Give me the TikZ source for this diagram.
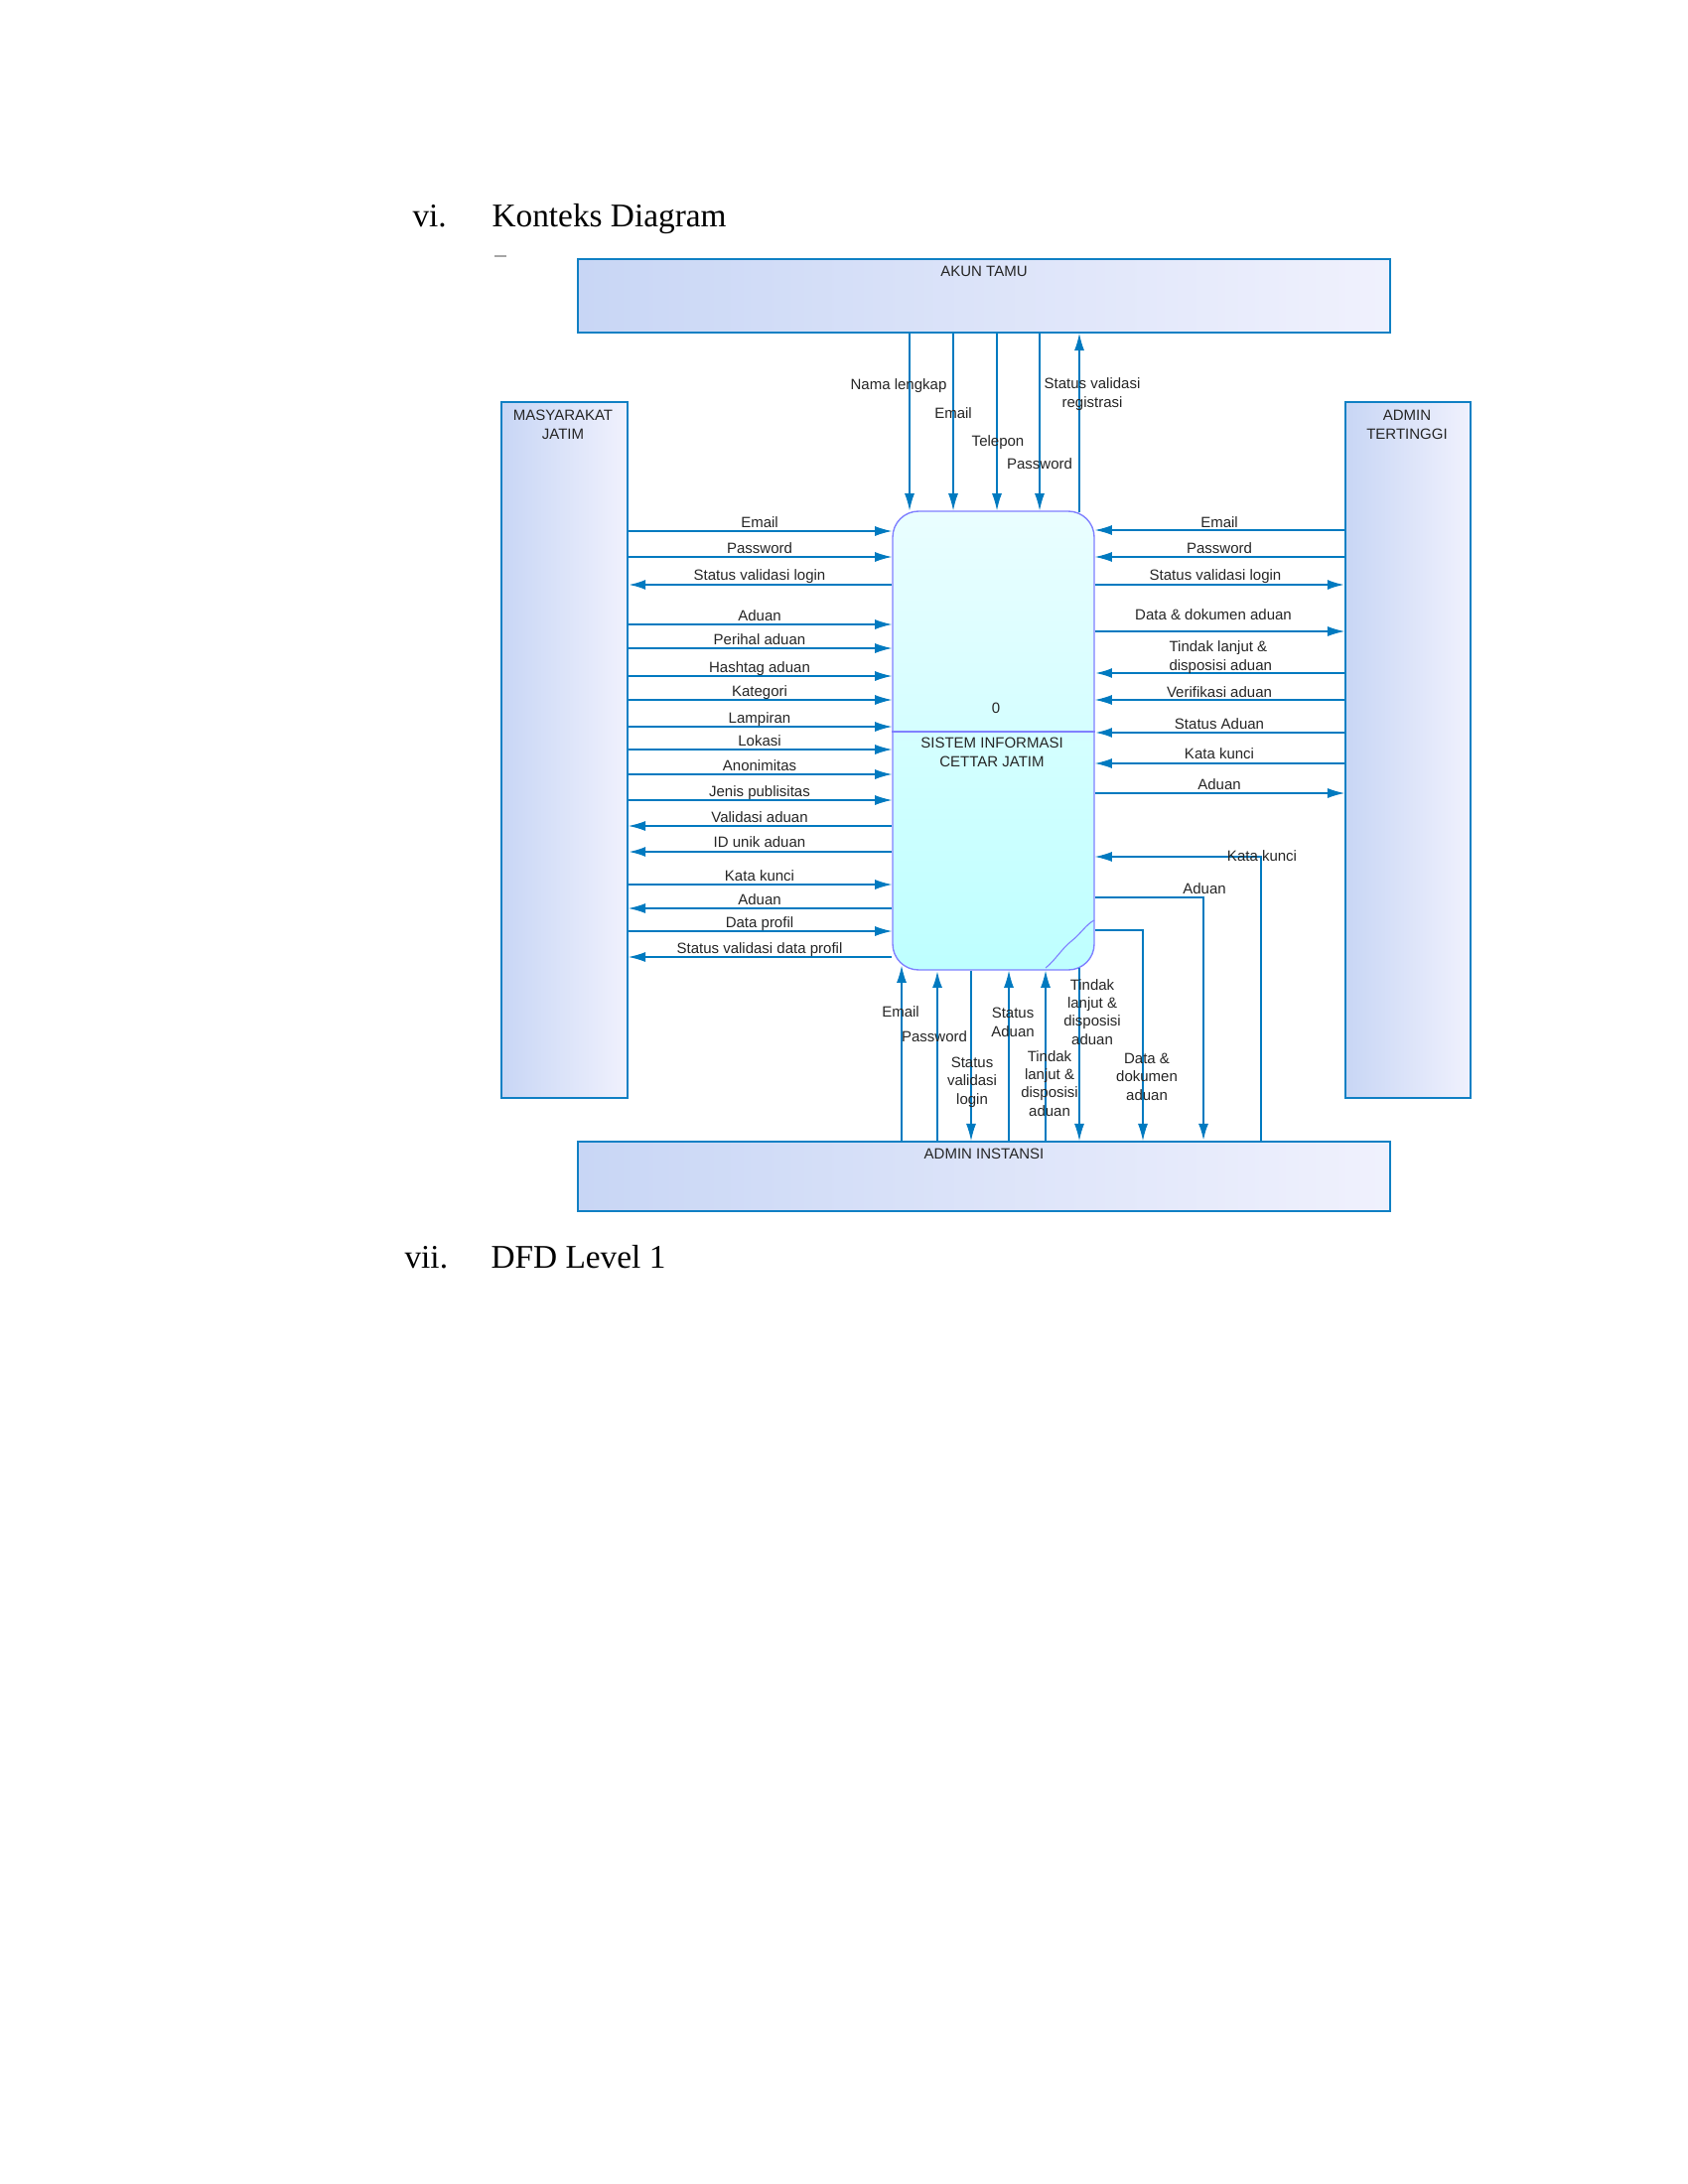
\documentclass[tikz,border=0pt]{standalone}
\usepackage{fontspec}
\setmainfont{Liberation Serif}
\newfontfamily\lblsans{Liberation Sans}
\usetikzlibrary{arrows.meta,fit,calc}
\definecolor{flowc}{RGB}{0,122,192}
\definecolor{entborder}{RGB}{16,128,196}
\definecolor{entA}{RGB}{200,214,245}
\definecolor{entB}{RGB}{240,241,253}
\definecolor{procA}{RGB}{234,254,255}
\definecolor{procB}{RGB}{190,255,255}
\definecolor{procborder}{RGB}{128,128,255}
\tikzset{
  entity/.style={rectangle, draw=entborder, line width=0.6pt, left color=entA, right color=entB, inner sep=0pt},
  procbox/.style={rectangle, draw=procborder, line width=0.5pt, top color=procA, bottom color=procB, rounded corners=9.4pt, inner sep=0pt},
  flow/.style={draw=flowc, line width=0.45pt, -{Latex[length=6.2pt,width=3.6pt]}},
  thickflow/.style={flow, line width=0.9pt},
  lbl/.style={font=\lblsans\fontsize{5.4}{6.5}\selectfont, inner sep=0pt, anchor=base, text=black!85, align=center},
  lblL/.style={lbl, anchor=base west, align=left},
  head/.style={font=\fontsize{12}{14}\selectfont, inner sep=0pt, anchor=base west},
}
\begin{document}
\begin{tikzpicture}[x=0.36pt,y=-0.36pt]
\fill[white] (0,0) rectangle (1700,2200);
\useasboundingbox (0,0) rectangle (1700,2200);

% headings
\node[head] (h1n) at (415,229) {vi.};
\node[head] (h1t) at (495,229) {Konteks Diagram};
\node[head] (h2n) at (407,1277) {vii.};
\node[head] (h2t) at (494,1277) {DFD Level 1};
\draw[black!35, line width=0.4pt] (498,258) -- (510,258);

% entities
\node[entity, fit={(582,261) (1400,335)}] (akun) {};
\node[entity, fit={(505,405) (632,1106)}] (masy) {};
\node[entity, fit={(1355,405) (1481,1106)}] (admt) {};
\node[entity, fit={(582,1150) (1400,1220)}] (admi) {};
% process
\node[procbox, fit={(899,515) (1102,977)}] (proc) {};
\draw[procborder, line width=0.45pt] (proc.west |- 0,737) -- (proc.east |- 0,737);
\draw[procborder, line width=0.4pt] (1102,927) .. controls (1094,931) and (1088,941) .. (1079,948) .. controls (1069,956) and (1063,967) .. (1053,975);

% entity / process labels (base = baseline of last line)
\node[lbl] (takun) at (991,279) {AKUN TAMU};
\node[lbl] (tmasy) at (567,442) {MASYARAKAT\\JATIM};
\node[lbl] (tadmt) at (1417,442) {ADMIN\\TERTINGGI};
\node[lbl] (tadmi) at (991,1167) {ADMIN INSTANSI};
\node[lbl] (tpnum) at (1003,718) {0};
\node[lbl] (tproc) at (999,772) {SISTEM INFORMASI\\CETTAR JATIM};

% ---- AKUN TAMU flows
\draw[flow] (akun.south -| 916,0) -- (proc.north -| 916,0);
\draw[flow] (akun.south -| 960,0) -- (proc.north -| 960,0);
\draw[flow] (akun.south -| 1004,0) -- (proc.north -| 1004,0);
\draw[flow] (akun.south -| 1047,0) -- (proc.north -| 1047,0);
\draw[flow] ($(proc.north -| 1087,0)+(0,2)$) -- (akun.south -| 1087,0);
\node[lbl] at (905,392) {Nama lengkap};
\node[lbl] at (960,421) {Email};
\node[lbl] at (1005,449) {Telepon};
\node[lbl] at (1047,472) {Password};
\node[lbl] at (1100,410) {Status validasi\\registrasi};

% ---- MASYARAKAT JATIM flows (to process)
\foreach \yy/\tt in {535/Email, 561/Password, 629/Aduan, 653/Perihal aduan, 681/Hashtag aduan, 705/Kategori, 732/Lampiran, 755/Lokasi, 780/Anonimitas, 806/Jenis publisitas, 891/Kata kunci, 938/Data profil}{
  \draw[flow] (masy.east |- 0,\yy) -- (proc.west |- 0,\yy);
  \node[lbl] at (765,\yy-3.5) {\tt};
}
% (from process)
\foreach \yy/\tt in {832/Validasi aduan, 915/Aduan, 964/Status validasi data profil}{
  \draw[flow] (proc.west |- 0,\yy) -- (masy.east |- 0,\yy);
  \node[lbl] at (765,\yy-3.5) {\tt};
}
\foreach \yy/\tt in {589/Status validasi login, 858/ID unik aduan}{
  \draw[thickflow] (proc.west |- 0,\yy) -- (masy.east |- 0,\yy);
  \node[lbl] at (765,\yy-4.5) {\tt};
}

% ---- ADMIN TERTINGGI flows
\draw[flow] (admt.west |- 0,534) -- (proc.east |- 0,534);
\node[lbl] at (1228,531) {Email};
\draw[flow] (admt.west |- 0,561) -- (proc.east |- 0,561);
\node[lbl] at (1228,557) {Password};
\draw[thickflow] (proc.east |- 0,589) -- (admt.west |- 0,589);
\node[lbl] at (1224,584) {Status validasi login};
\draw[flow] (proc.east |- 0,636) -- (admt.west |- 0,636);
\node[lbl] at (1222,624) {Data \& dokumen aduan};
\draw[thickflow] (admt.west |- 0,678) -- (proc.east |- 0,678);
\node[lblL] at (1177,675) {Tindak lanjut \&\\disposisi aduan};
\draw[flow] (admt.west |- 0,705) -- (proc.east |- 0,705);
\node[lbl] at (1228,702) {Verifikasi aduan};
\draw[thickflow] (admt.west |- 0,738) -- (proc.east |- 0,738);
\node[lbl] at (1228,734) {Status Aduan};
\draw[flow] (admt.west |- 0,769) -- (proc.east |- 0,769);
\node[lbl] at (1228,764) {Kata kunci};
\draw[flow] (proc.east |- 0,799) -- (admt.west |- 0,799);
\node[lbl] at (1228,795) {Aduan};

% ---- ADMIN INSTANSI flows
\draw[flow] (admi.north -| 908,0) -- ($(proc.south -| 908,0)+(0,-5)$);
\node[lbl] at (907,1024) {Email};
\draw[thickflow] (admi.north -| 944,0) -- (proc.south -| 944,0);
\node[lbl] at (941,1049) {Password};
\draw[flow] (proc.south -| 978,0) -- (admi.north -| 978,0);
\node[lbl] at (979,1112) {Status\\validasi\\login};
\draw[flow] (admi.north -| 1016,0) -- (proc.south -| 1016,0);
\node[lbl] at (1020,1044) {Status\\Aduan};
\draw[flow] (admi.north -| 1053,0) -- (proc.south -| 1053,0);
\node[lbl] at (1057,1124) {Tindak\\lanjut \&\\disposisi\\aduan};
\draw[flow] ($(proc.south -| 1087,0)+(0,-3)$) -- (admi.north -| 1087,0);
\node[lbl] at (1100,1052) {Tindak\\lanjut \&\\disposisi\\aduan};
\draw[flow] (proc.east |- 0,937) -| (admi.north -| 1151,0);
\node[lbl] at (1155,1108) {Data \&\\dokumen\\aduan};
\draw[thickflow] (proc.east |- 0,904) -| (admi.north -| 1212,0);
\node[lbl] at (1213,900) {Aduan};
\draw[flow] (admi.north -| 1270,0) |- (proc.east |- 0,863);
\node[lbl] at (1271,867) {Kata kunci};
\end{tikzpicture}
\end{document}
